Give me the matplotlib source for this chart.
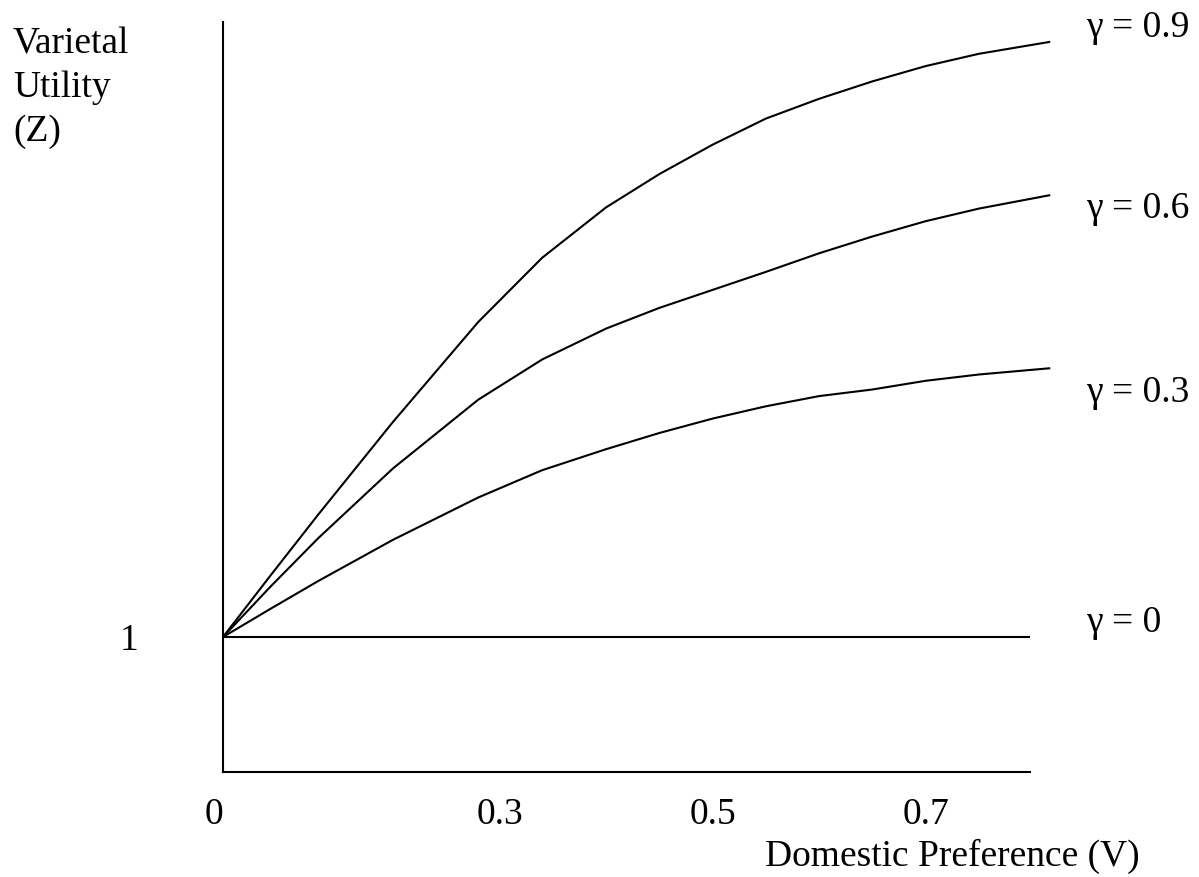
import numpy as np
import matplotlib
matplotlib.use("Agg")
import matplotlib.pyplot as plt

plt.rcParams['font.family'] = ['Liberation Serif', 'DejaVu Serif']

# domestic preference V (origin of the sketch sits at V ~ 0.04)
v_origin = 0.0404
v_end = 0.798
V = np.array([v_origin, 0.085, 0.13, 0.20, 0.28, 0.34, 0.40, 0.45,
              0.50, 0.55, 0.60, 0.65, 0.70, 0.75, 0.817])

# varietal utility Z for each gamma
z_09 = np.array([1.000, 1.205, 1.409, 1.717, 2.050, 2.264, 2.432, 2.543,
                 2.641, 2.728, 2.794, 2.852, 2.903, 2.944, 2.984])
z_06 = np.array([1.000, 1.168, 1.330, 1.562, 1.791, 1.925, 2.028, 2.097,
                 2.157, 2.217, 2.279, 2.335, 2.386, 2.428, 2.473])
z_03 = np.array([1.000, 1.094, 1.187, 1.324, 1.465, 1.556, 1.626, 1.680,
                 1.728, 1.769, 1.803, 1.825, 1.854, 1.875, 1.896])
v_flat = np.array([v_origin, v_end])
z_00 = np.array([1.0, 1.0])

curve_labels = ['γ = 0.9', 'γ = 0.6', 'γ = 0.3', 'γ = 0']
label_v = 0.851
label_z = [3.0, 2.397, 1.783, 1.017]

xtick_pos = [v_origin, 0.3, 0.5, 0.7]
xtick_lab = ['0', '0.3', '0.5', '0.7']

W, H = 1199, 877
fig = plt.figure(figsize=(W / 100, H / 100), dpi=100)
ax = fig.add_axes([223 / W, (H - 772) / H, (1030 - 223) / W, (772 - 22) / H])

fs = 27
lw = 1.5
for z in [z_09, z_06, z_03]:
    ax.plot(V, z, color='black', lw=lw, clip_on=False, solid_capstyle='butt')
ax.plot(v_flat, z_00, color='black', lw=lw, clip_on=False, solid_capstyle='butt')

for lab, zl in zip(curve_labels, label_z):
    ax.text(label_v, zl, lab, fontsize=fs, ha='left', va='baseline', clip_on=False)

ax.set_xlim(v_origin, v_end)
ax.set_ylim(0.55, 3.05)

for s in ['top', 'right']:
    ax.spines[s].set_visible(False)
for s in ['left', 'bottom']:
    ax.spines[s].set_linewidth(lw)
    ax.spines[s].set_color('black')

ax.set_xticks(xtick_pos, xtick_lab)
ax.set_yticks([1.0], ['1'])
ax.tick_params(axis='x', length=0, pad=18, labelsize=fs)
ax.tick_params(axis='y', length=0, pad=61, labelsize=fs)
ax.get_xticklabels()[0].set_horizontalalignment('right')

fig.text(765 / W, (H - 866) / H, 'Domestic Preference (V)', fontsize=fs,
         ha='left', va='baseline')

ylab_lines = ['Varietal', 'Utility', '(Z)']
ylab_base = [53, 97, 141]
for t, b in zip(ylab_lines, ylab_base):
    fig.text(13 / W, (H - b) / H, t, fontsize=fs, ha='left', va='baseline')

fig.savefig('out.png', dpi=100, facecolor='white')
